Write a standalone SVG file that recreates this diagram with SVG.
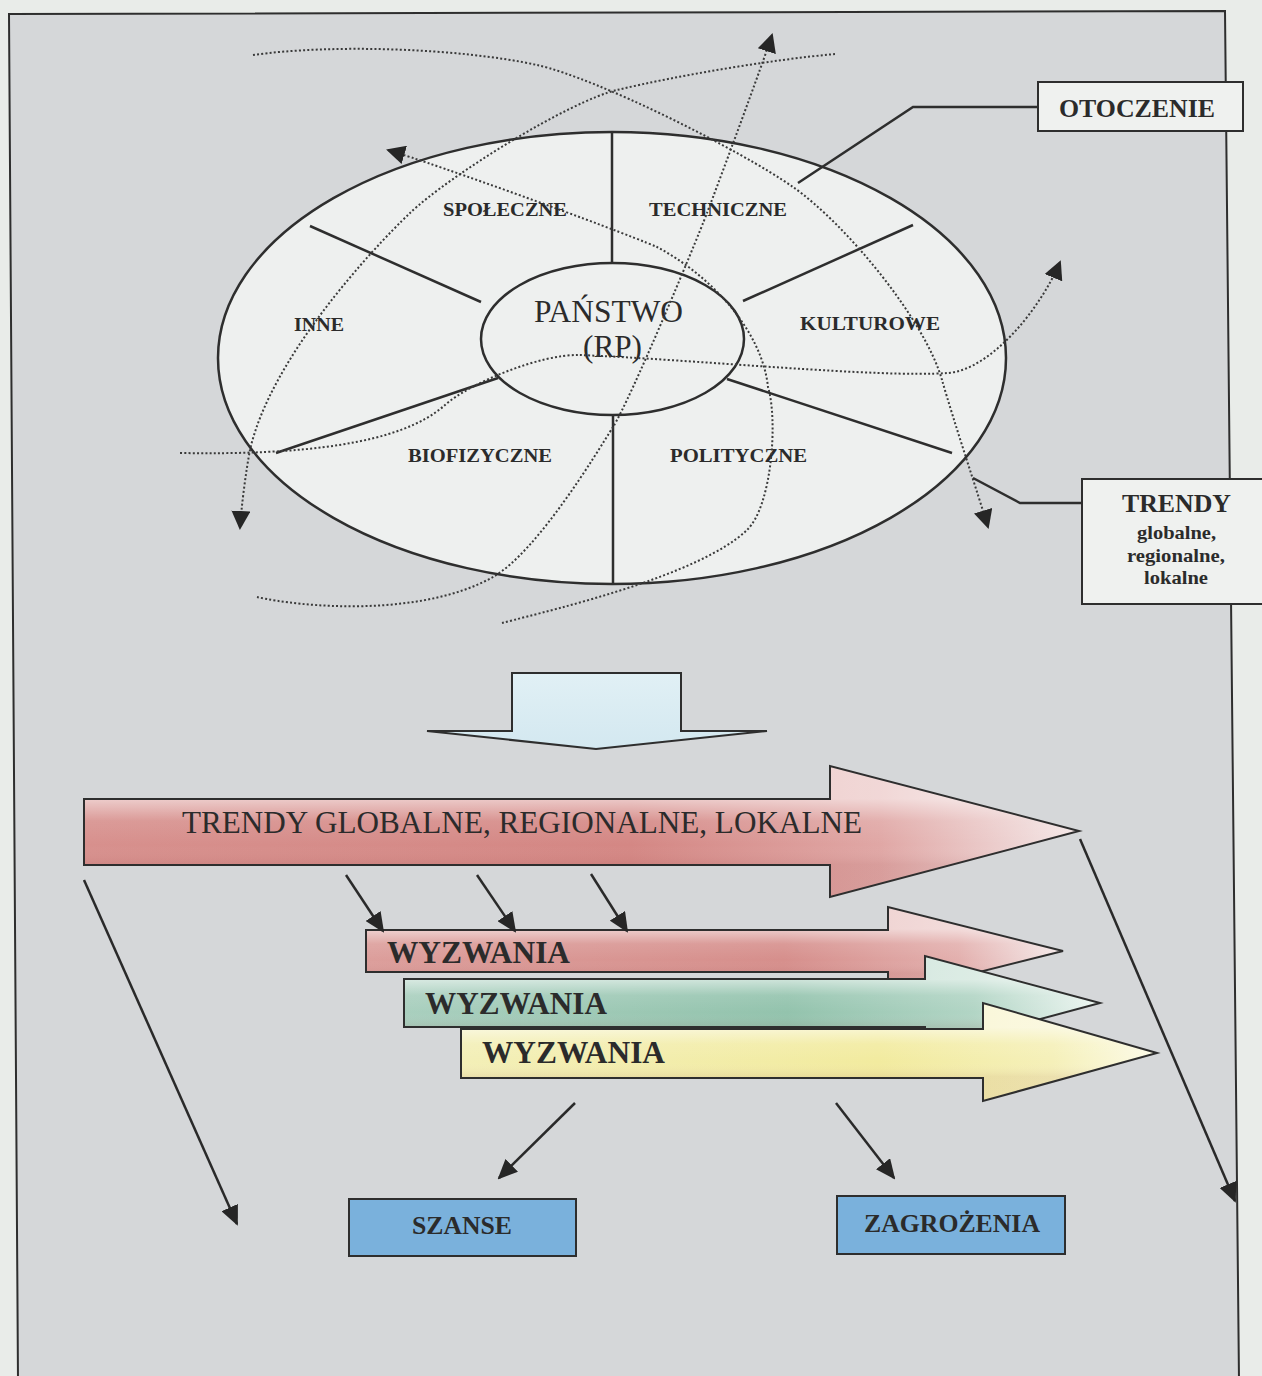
<svg xmlns="http://www.w3.org/2000/svg" width="1262" height="1376" viewBox="0 0 1262 1376">
<defs>
<style>
.ln{stroke:#2e2e2e;stroke-width:2.5;fill:none}
.dot{stroke:#3a3a3a;stroke-width:2;fill:none;stroke-dasharray:2 2.2}
.lbl{font-family:"Liberation Serif","Times New Roman",serif;font-weight:bold;fill:#2b2b2b}
.reg{font-family:"Liberation Serif","Times New Roman",serif;fill:#2b2b2b}
.box{fill:#eff1ef;stroke:#2e2e2e;stroke-width:2}
.bbox{fill:#7ab1dc;stroke:#2e2e2e;stroke-width:2}
.outl{fill:none;stroke:#2e2e2e;stroke-width:2;stroke-linejoin:miter}
.sol{stroke:#2a2a2a;stroke-width:2.5;fill:none}
</style>
<marker id="ah" markerUnits="userSpaceOnUse" viewBox="0 0 19 19" markerWidth="19" markerHeight="19" refX="17" refY="9.5" orient="auto"><path d="M0,0 L19,9.5 L0,19 z" fill="#262626"/></marker>
<marker id="ahs" markerUnits="userSpaceOnUse" viewBox="0 0 20 18" markerWidth="20" markerHeight="18" refX="18" refY="9" orient="auto"><path d="M0,0 L20,9 L0,18 z" fill="#262626"/></marker>
<linearGradient id="gRed" x1="0" y1="0" x2="1" y2="0">
<stop offset="0" stop-color="#d7908d"/><stop offset="0.55" stop-color="#d48784"/><stop offset="0.8" stop-color="#e0a7a5"/><stop offset="1" stop-color="#f4e8e8"/>
</linearGradient>
<linearGradient id="gRed2" x1="0" y1="0" x2="1" y2="0">
<stop offset="0" stop-color="#dc9e9b"/><stop offset="0.6" stop-color="#d68f8c"/><stop offset="0.85" stop-color="#e3b0ae"/><stop offset="1" stop-color="#f5ebeb"/>
</linearGradient>
<linearGradient id="gGreen" x1="0" y1="0" x2="1" y2="0">
<stop offset="0" stop-color="#a9cfbe"/><stop offset="0.55" stop-color="#93c3ad"/><stop offset="0.82" stop-color="#b2d5c5"/><stop offset="1" stop-color="#eef6f2"/>
</linearGradient>
<linearGradient id="gYellow" x1="0" y1="0" x2="1" y2="0">
<stop offset="0" stop-color="#f3efb7"/><stop offset="0.6" stop-color="#f2eb9f"/><stop offset="0.85" stop-color="#f5f0b9"/><stop offset="1" stop-color="#fcfbe8"/>
</linearGradient>
<linearGradient id="gShade" x1="0" y1="0" x2="0" y2="1">
<stop offset="0.25" stop-color="#ffffff" stop-opacity="0.55"/><stop offset="0.42" stop-color="#ffffff" stop-opacity="0.1"/><stop offset="0.6" stop-color="#ffffff" stop-opacity="0"/><stop offset="0.75" stop-color="#803030" stop-opacity="0.08"/>
</linearGradient>
<linearGradient id="gBlue" x1="0" y1="0" x2="0" y2="1">
<stop offset="0" stop-color="#e1f0f5"/><stop offset="1" stop-color="#d3e8f0"/>
</linearGradient>
</defs>

<rect x="0" y="0" width="1262" height="1376" fill="#e9ece9"/>
<path id="frame" d="M9,14 L1225,11 L1239,1380 L18,1380 Z" fill="#d5d7d9" stroke="#2e2e2e" stroke-width="2"/>

<g id="otoczenie-ellipse">
<ellipse cx="612" cy="358" rx="394" ry="226" fill="#eef0ef" stroke="#2e2e2e" stroke-width="2.5"/>
<line class="ln" x1="612" y1="132" x2="612" y2="263"/>
<line class="ln" x1="613" y1="415" x2="613" y2="584"/>
<line class="ln" x1="310" y1="226" x2="481" y2="302"/>
<line class="ln" x1="498" y1="378" x2="276" y2="453"/>
<line class="ln" x1="743" y1="301" x2="913" y2="225"/>
<line class="ln" x1="727" y1="379" x2="952" y2="453"/>
<text class="lbl" x="443" y="216" font-size="18" textLength="124" lengthAdjust="spacingAndGlyphs">SPOŁECZNE</text>
<text class="lbl" x="649" y="216" font-size="18" textLength="138" lengthAdjust="spacingAndGlyphs">TECHNICZNE</text>
<text class="lbl" x="294" y="331" font-size="18" textLength="50" lengthAdjust="spacingAndGlyphs">INNE</text>
<text class="lbl" x="800" y="330" font-size="18" textLength="140" lengthAdjust="spacingAndGlyphs">KULTUROWE</text>
<text class="lbl" x="408" y="462" font-size="18" textLength="144" lengthAdjust="spacingAndGlyphs">BIOFIZYCZNE</text>
<text class="lbl" x="670" y="462" font-size="18" textLength="137" lengthAdjust="spacingAndGlyphs">POLITYCZNE</text>
</g>

<g id="panstwo">
<ellipse cx="612.5" cy="339" rx="131.5" ry="76" fill="#eef0ef" stroke="#2e2e2e" stroke-width="2.5"/>
<text class="reg" x="534" y="322" font-size="31" textLength="149" lengthAdjust="spacingAndGlyphs">PAŃSTWO</text>
<text class="reg" x="583" y="357" font-size="31" textLength="59" lengthAdjust="spacingAndGlyphs">(RP)</text>
</g>

<g id="otoczenie-label">
<rect class="box" x="1038" y="82" width="205" height="49"/>
<text class="lbl" x="1059" y="117" font-size="25" textLength="156" lengthAdjust="spacingAndGlyphs">OTOCZENIE</text>
</g>

<g id="trendy-label">
<rect class="box" x="1082" y="479" width="184" height="125"/>
<text class="lbl" x="1122" y="512" font-size="25" textLength="109" lengthAdjust="spacingAndGlyphs">TRENDY</text>
<text class="lbl" x="1137" y="539" font-size="19" textLength="79" lengthAdjust="spacingAndGlyphs">globalne,</text>
<text class="lbl" x="1127" y="562" font-size="19" textLength="98" lengthAdjust="spacingAndGlyphs">regionalne,</text>
<text class="lbl" x="1144" y="584" font-size="19" textLength="64" lengthAdjust="spacingAndGlyphs">lokalne</text>
</g>

<g id="down-arrow">
<polygon points="512,673 681,673 681,731 767,731 596,749 427,731 512,731" fill="url(#gBlue)" stroke="#2e2e2e" stroke-width="2"/>
</g>

<g id="trendy-arrow">
<polygon points="84,799 830,799 830,766 1079,831 830,897 830,865 84,865" fill="url(#gRed)"/>
<polygon points="84,799 830,799 830,766 1079,831 830,897 830,865 84,865" fill="url(#gShade)"/>
<polygon class="outl" points="84,799 830,799 830,766 1079,831 830,897 830,865 84,865"/>
<text class="reg" x="182" y="833" font-size="31" textLength="680" lengthAdjust="spacingAndGlyphs">TRENDY GLOBALNE, REGIONALNE, LOKALNE</text>
</g>

<g id="wyzwania-1">
<polygon points="366,930 888,930 888,907 1063,951 888,995 888,972 366,972" fill="url(#gRed2)"/>
<polygon points="366,930 888,930 888,907 1063,951 888,995 888,972 366,972" fill="url(#gShade)"/>
<polygon class="outl" points="366,930 888,930 888,907 1063,951 888,995 888,972 366,972"/>
<text class="lbl" x="387" y="963" font-size="31" textLength="183" lengthAdjust="spacingAndGlyphs">WYZWANIA</text>
</g>

<g id="wyzwania-2">
<polygon points="404,979 925,979 925,956 1100,1003 925,1050 925,1027 404,1027" fill="url(#gGreen)"/>
<polygon points="404,979 925,979 925,956 1100,1003 925,1050 925,1027 404,1027" fill="url(#gShade)"/>
<polygon class="outl" points="404,979 925,979 925,956 1100,1003 925,1050 925,1027 404,1027"/>
<text class="lbl" x="425" y="1014" font-size="31" textLength="182" lengthAdjust="spacingAndGlyphs">WYZWANIA</text>
</g>

<g id="wyzwania-3">
<polygon points="461,1029 983,1029 983,1003 1157,1053 983,1101 983,1078 461,1078" fill="url(#gYellow)"/>
<polygon points="461,1029 983,1029 983,1003 1157,1053 983,1101 983,1078 461,1078" fill="url(#gShade)"/>
<polygon class="outl" points="461,1029 983,1029 983,1003 1157,1053 983,1101 983,1078 461,1078"/>
<text class="lbl" x="482" y="1063" font-size="31" textLength="183" lengthAdjust="spacingAndGlyphs">WYZWANIA</text>
</g>

<g id="szanse">
<rect class="bbox" x="349" y="1199" width="227" height="57"/>
<text class="lbl" x="462" y="1234" font-size="25" text-anchor="middle" textLength="100" lengthAdjust="spacingAndGlyphs">SZANSE</text>
</g>

<g id="zagrozenia">
<rect class="bbox" x="837" y="1196" width="228" height="58"/>
<text class="lbl" x="952" y="1232" font-size="25" text-anchor="middle" textLength="176" lengthAdjust="spacingAndGlyphs">ZAGROŻENIA</text>
</g>

<g id="connectors">
<path class="dot" marker-end="url(#ah)" d="M253,55 C330,44 460,48 537,65 C599,79 740,150 793,187 C846,224 925,320 942,380 C954,422 979,497 988,527"/>
<path class="dot" marker-end="url(#ah)" d="M257,597 C300,607 420,618 493,577 C537,552 596,454 613,427 C630,400 694,247 707,213 C720,179 763,63 772,35"/>
<path class="dot" marker-end="url(#ah)" d="M502,623 C560,608 700,575 747,530 C772,506 778,420 768,387 C762,330 710,275 657,247 C610,227 438,165 388,150"/>
<path class="dot" marker-end="url(#ah)" d="M180,453 C300,455 400,445 445,405 C470,383 540,354 580,355 C700,360 880,378 948,373 C990,370 1040,310 1060,262"/>
<path class="dot" marker-end="url(#ah)" d="M835,54 C770,60 680,75 617,90 C570,101 450,175 410,213 C370,251 270,360 250,450 C246,470 241,510 240,528"/>
<polyline class="ln" points="1038,107 913,107 798,183"/>
<polyline class="ln" points="1082,503 1020,503 973,478"/>
<line class="sol" marker-end="url(#ahs)" x1="346" y1="875" x2="383" y2="931"/>
<line class="sol" marker-end="url(#ahs)" x1="477" y1="875" x2="515" y2="931"/>
<line class="sol" marker-end="url(#ahs)" x1="591" y1="874" x2="627" y2="931"/>
<line class="sol" marker-end="url(#ahs)" x1="575" y1="1103" x2="499" y2="1178"/>
<line class="sol" marker-end="url(#ahs)" x1="836" y1="1103" x2="894" y2="1178"/>
<line class="sol" marker-end="url(#ahs)" x1="84" y1="880" x2="237" y2="1224"/>
<line class="sol" marker-end="url(#ahs)" x1="1080" y1="839" x2="1235" y2="1201"/>
</g>
</svg>
